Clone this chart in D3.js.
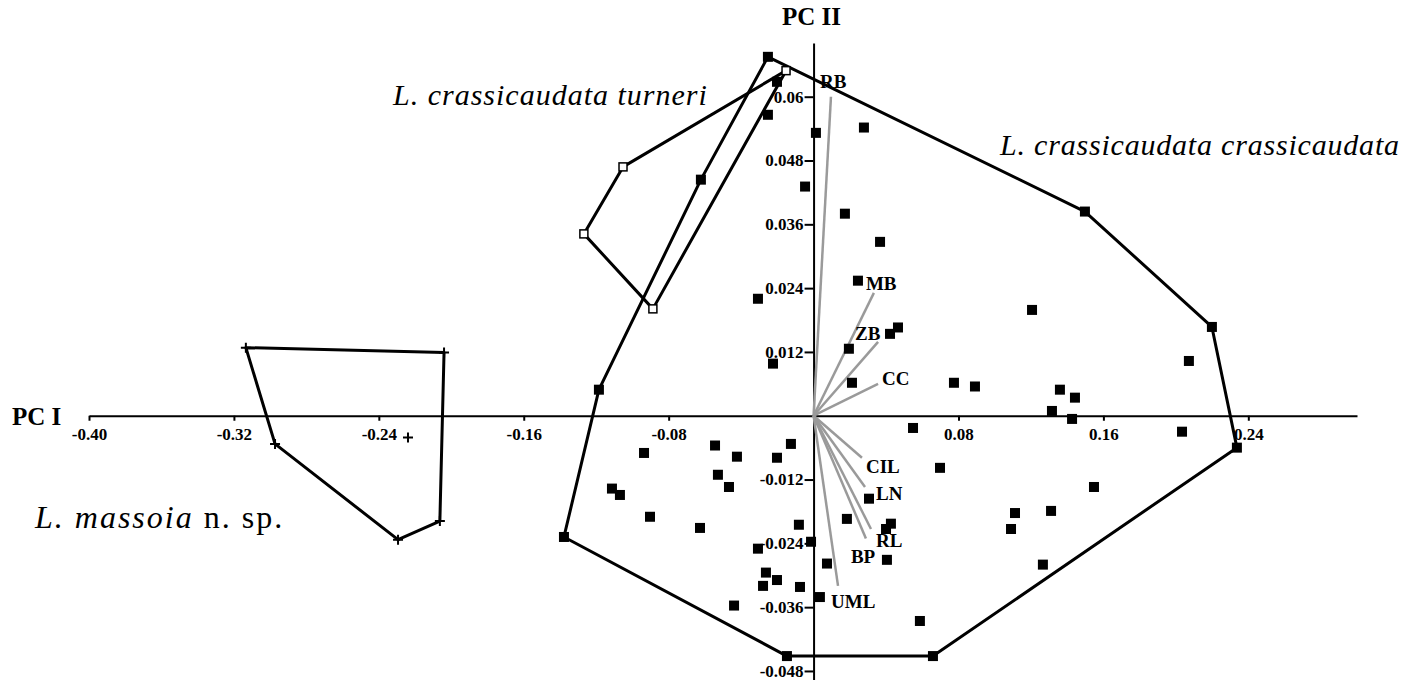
<!DOCTYPE html>
<html>
<head>
<meta charset="utf-8">
<script src="https://cdn.jsdelivr.net/npm/d3@7"></script>
<style>
body{margin:0;background:#fff}
svg{display:block}
.axis text{font-family:"Liberation Serif","Times New Roman",serif;font-weight:bold;font-size:17px;fill:#000}
.axis path,.axis line{stroke:#000;stroke-width:2}
</style>
</head>
<body>
<svg id="chart" width="1415" height="680"></svg>
<script>
// PC scores, L. crassicaudata crassicaudata (filled squares)
const crassX=[-0.0252,-0.0202,-0.0252,0.0013,0.0278,-0.0047,0.0173,0.0367,0.0245,-0.0307,
  0.0422,0.0466,0.0195,-0.0224,0.0212,0.0549,-0.0125,-0.0202,0.0698,0.0306,
  0.0184,0.0427,0.0400,-0.0081,-0.0014,-0.0307,0.0074,0.0405,-0.0263,-0.0202,
  -0.0279,-0.0075,0.0035,0.0587,-0.0147,0.0659,-0.0936,-0.0544,-0.0423,-0.0528,
  -0.0467,-0.1113,-0.1069,-0.0903,-0.0627,-0.1378,-0.0439,-0.1185,-0.0622,0.0775,
  0.0891,0.1360,0.1443,0.1316,0.1427,0.2072,0.2034,0.2337,0.1498,0.2199,
  0.1206,0.1548,0.1112,0.1311,0.1090,0.1266]
const crassY=[0.0675,0.0628,0.0566,0.0532,0.0542,0.0431,0.0380,0.0327,0.0254,0.0220,
  0.0154,0.0166,0.0126,0.0098,0.0062,-0.0023,-0.0053,-0.0079,-0.0098,-0.0156,
  -0.0194,-0.0203,-0.0213,-0.0205,-0.0237,-0.0250,-0.0278,-0.0271,-0.0295,-0.0309,
  -0.0320,-0.0322,-0.0341,-0.0386,-0.0452,-0.0452,-0.0070,-0.0056,-0.0077,-0.0111,
  -0.0134,-0.0137,-0.0149,-0.0190,-0.0211,-0.0228,-0.0357,0.0049,0.0444,0.0062,
  0.0055,0.0049,0.0034,0.0009,-0.0006,0.0103,-0.0030,-0.0060,0.0384,0.0167,
  0.0199,-0.0134,-0.0183,-0.0179,-0.0213,-0.0280]
// L. crassicaudata turneri (open squares)
const turnX=[-0.0152,-0.1052,-0.1268,-0.0887]
const turnY=[0.0649,0.0468,0.0342,0.0201]
// L. massoia (plus signs)
const massX=[-0.3134,-0.2040,-0.2063,-0.2294,-0.2973,-0.2239]
const massY=[0.0128,0.0119,-0.0198,-0.0233,-0.0053,-0.0041]
// variable loadings (scaled)
const vecNames=["RB","MB","ZB","CC","CIL","LN","RL","BP","UML"]
const vecX=[0.0096,0.0333,0.0356,0.0356,0.0267,0.0284,0.0317,0.0289,0.0135]
const vecY=[0.0600,0.0231,0.0139,0.0060,-0.0079,-0.0134,-0.0213,-0.0231,-0.0320]
const xTicks=[-0.40,-0.32,-0.24,-0.16,-0.08,0.08,0.16,0.24]
const xTickLabels=["-0.40","-0.32","-0.24","-0.16","-0.08","0.08","0.16","0.24"]
const yTicks=[0.06,0.048,0.036,0.024,0.012,-0.012,-0.024,-0.036,-0.048]
const yTickLabels=["0.06","0.048","0.036","0.024","0.012","-0.012","-0.024","-0.036","-0.048"]

// label nudges for the loading names (pixels from arrow tip)
const vecLabelOff=[[-11,-9],[-8,-3],[-23,-2],[4,1],[4,15],[11,13],[5,18],[-15,24],[-7,22]]

const svg=d3.select("#chart")
const x=d3.scaleLinear().domain([-0.40,0.30]).range([89,1357])
const y=d3.scaleLinear().domain([-0.0497,0.0701]).range([680,43])

const serif='"Liberation Serif","Times New Roman",serif'

// axes
svg.append("g").attr("class","axis")
  .attr("transform","translate(0,"+y(0)+")")
  .call(d3.axisBottom(x).tickValues(xTicks).tickFormat((d,i)=>xTickLabels[i]).tickSize(5).tickSizeOuter(0).tickPadding(7))
svg.append("g").attr("class","axis")
  .attr("transform","translate("+x(0)+",0)")
  .call(d3.axisLeft(y).tickValues(yTicks).tickFormat((d,i)=>yTickLabels[i]).tickSize(9).tickSizeOuter(0).tickPadding(1))

svg.append("text").attr("x",12).attr("y",425)
  .style("font-family",serif).style("font-weight","bold").style("font-size","25px")
  .text("PC I")
svg.append("text").attr("x",x(0)-2).attr("y",25).attr("text-anchor","middle")
  .style("font-family",serif).style("font-weight","bold").style("font-size","25px")
  .text("PC II")

// loading vectors
const vec=vecNames.map((n,i)=>({n:n,x:vecX[i],y:vecY[i],off:vecLabelOff[i]}))
svg.append("g").selectAll("line").data(vec).join("line")
  .attr("x1",x(0)).attr("y1",y(0))
  .attr("x2",d=>x(d.x)).attr("y2",d=>y(d.y))
  .attr("stroke","#9a9a9a").attr("stroke-width",2.5)
svg.append("g").selectAll("text").data(vec).join("text")
  .attr("x",d=>x(d.x)+d.off[0]).attr("y",d=>y(d.y)+d.off[1])
  .style("font-family",serif).style("font-weight","bold").style("font-size","19px")
  .text(d=>d.n)

// hulls
function hull(xs,ys){
  const pts=xs.map((v,i)=>[x(v),y(ys[i])])
  return "M"+d3.polygonHull(pts).join("L")+"Z"
}
const hulls=svg.append("g").attr("fill","none").attr("stroke","#000").attr("stroke-width",3).attr("stroke-linejoin","round")
hulls.append("path").attr("d",hull(crassX,crassY))
hulls.append("path").attr("d",hull(turnX,turnY))
hulls.append("path").attr("d",hull(massX,massY))

// points
const sq=10
svg.append("g").selectAll("rect").data(crassX.map((v,i)=>[v,crassY[i]])).join("rect")
  .attr("x",d=>x(d[0])-sq/2).attr("y",d=>y(d[1])-sq/2)
  .attr("width",sq).attr("height",sq).attr("fill","#000")
svg.append("g").selectAll("rect").data(turnX.map((v,i)=>[v,turnY[i]])).join("rect")
  .attr("x",d=>x(d[0])-4).attr("y",d=>y(d[1])-4)
  .attr("width",8).attr("height",8).attr("fill","#fff").attr("stroke","#000").attr("stroke-width",1.5)
svg.append("g").selectAll("path").data(massX.map((v,i)=>[v,massY[i]])).join("path")
  .attr("d",d=>{const px=x(d[0]),py=y(d[1]);return "M"+(px-5)+","+py+"H"+(px+5)+"M"+px+","+(py-5)+"V"+(py+5)})
  .attr("stroke","#000").attr("stroke-width",2)

// group labels
function groupLabel(px,py,size,spacing,parts){
  const t=svg.append("text").attr("x",px).attr("y",py)
    .style("font-family",serif).style("font-size",size+"px").style("letter-spacing",spacing+"px")
  parts.forEach(p=>t.append("tspan").style("font-style",p[1]?"italic":"normal").text(p[0]))
}
groupLabel(393,105,30,1,[["L. crassicaudata turneri",true]])
groupLabel(1000,155,30,0.8,[["L. crassicaudata crassicaudata",true]])
groupLabel(35,528,32,2,[["L. massoia",true],[" n. sp.",false]])
</script>
</body>
</html>
